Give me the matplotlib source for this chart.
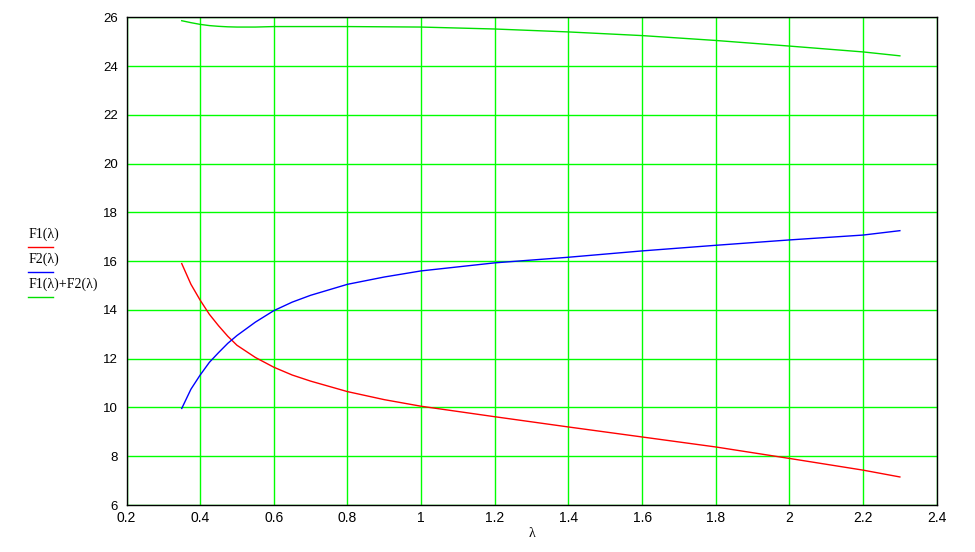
import numpy as np
import matplotlib
matplotlib.use("Agg")
import matplotlib.pyplot as plt
from matplotlib.lines import Line2D

# values
lam = [0.35, 0.375, 0.4, 0.425, 0.45, 0.475, 0.5, 0.55, 0.6, 0.65, 0.7, 0.8, 0.9, 1.0,
       1.2, 1.4, 1.6, 1.8, 2.0, 2.2, 2.3]
f1 = [15.9, 15.05, 14.4, 13.82, 13.35, 12.92, 12.55, 12.05, 11.65, 11.33, 11.08, 10.65, 10.32, 10.05,
      9.62, 9.2, 8.79, 8.38, 7.91, 7.43, 7.15]
f2 = [9.96, 10.75, 11.33, 11.85, 12.25, 12.63, 12.95, 13.5, 13.97, 14.32, 14.6, 15.05, 15.35, 15.6,
      15.93, 16.16, 16.42, 16.65, 16.87, 17.07, 17.25]
f12 = [25.86, 25.78, 25.71, 25.66, 25.63, 25.61, 25.6, 25.6, 25.62, 25.62, 25.62, 25.62, 25.61, 25.6,
       25.52, 25.4, 25.25, 25.05, 24.82, 24.58, 24.42]

xticks = [0.2, 0.4, 0.6, 0.8, 1, 1.2, 1.4, 1.6, 1.8, 2, 2.2, 2.4]
yticks = [6, 8, 10, 12, 14, 16, 18, 20, 22, 24, 26]
legend_labels = ["F1(\u03bb)", "F2(\u03bb)", "F1(\u03bb)+F2(\u03bb)"]
colors = ["#ff0000", "#0000ff", "#00e000"]

W, H = 975, 552
fig = plt.figure(figsize=(W / 100, H / 100), dpi=100)
ax = fig.add_axes([126.5 / W, (H - 505) / H, (936.7 - 126.5) / W, (505 - 17.3) / H])

ax.plot(lam, f1, color=colors[0], lw=1)
ax.plot(lam, f2, color=colors[1], lw=1)
ax.plot(lam, f12, color=colors[2], lw=1)

ax.set_xlim(0.2, 2.4)
ax.set_ylim(6, 26)
ax.set_xticks(xticks)
ax.set_yticks(yticks)
ax.set_xticklabels([("%g" % v) for v in xticks], fontsize=10, family="Liberation Sans")
ax.set_yticklabels([("%g" % v) for v in yticks], fontsize=9.5, family="Liberation Sans")
ax.tick_params(axis="x", length=0, pad=4)
ax.tick_params(axis="y", length=0, pad=6)
ax.grid(True, color="#00ff00", lw=1)
ax.set_axisbelow(True)
for s in ax.spines.values():
    s.set_color("black")
    s.set_linewidth(1)

ax.set_xlabel("\u03bb", fontsize=10, family="Liberation Serif", labelpad=2)

# Mathcad-style legend on the left
ys_text = [238.3, 263.3, 288.3]
ys_line = [246.7, 272.3, 297.3]
for lab, c, yt, yl in zip(legend_labels, colors, ys_text, ys_line):
    fig.text(29 / W, (H - yt) / H, lab, fontsize=10, family="Liberation Serif",
             ha="left", va="baseline")
    fig.add_artist(Line2D([28 / W, 53 / W], [(H - yl) / H] * 2, color=c, lw=1,
                          transform=fig.transFigure))

fig.savefig("out.png", dpi=100, facecolor="white")
